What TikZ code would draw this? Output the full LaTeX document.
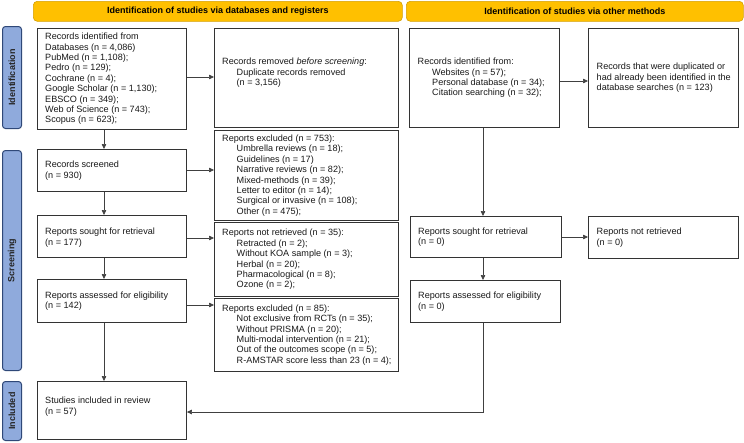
\documentclass[tikz,border=0pt]{standalone}
\usepackage{fontspec}
\setmainfont{Liberation Sans}
\usetikzlibrary{arrows.meta,calc}
\definecolor{hdrfill}{RGB}{255,192,0}
\definecolor{hdrdraw}{RGB}{214,160,0}
\definecolor{sidefill}{RGB}{143,170,220}
\definecolor{sidedraw}{RGB}{47,72,120}
\newcommand{\ind}{\hspace*{14.5pt}}
\begin{document}
\begin{tikzpicture}[x=1pt,y=-1pt,
  box/.style={draw=black!80, line width=0.9pt, fill=white, anchor=north west, inner sep=0pt},
  txt/.style={anchor=west, align=left, inner sep=0pt, font=\fontsize{9.1}{10.4}\selectfont, text=black!90},
  hdr/.style={draw=hdrdraw, fill=hdrfill, line width=0.6pt, rounded corners=4pt, anchor=north west,
    font=\fontsize{9}{10.5}\selectfont\bfseries, inner sep=0pt},
  side/.style={draw=sidedraw, fill=sidefill, line width=1pt, rounded corners=3pt, anchor=north west,
    inner sep=0pt},
  sidetxt/.style={rotate=90, font=\fontsize{9}{10.5}\selectfont\bfseries, text=black!85},
  arr/.style={draw=black!75, line width=0.6pt, -{Triangle[length=5pt,width=4.5pt]}},
]
\useasboundingbox (0,0) rectangle (744,442);
\fill[white] (0,0) rectangle (744,442);

% headers
\node[hdr, minimum width=369pt, minimum height=20pt] (hL) at (33,1) {Identification of studies via databases and registers};
\node[hdr, minimum width=337pt, minimum height=20pt] (hR) at (406,1) {Identification of studies via other methods};

% side labels
\node[side, minimum width=19pt, minimum height=102pt] (s1) at (2,26) {};
\node[sidetxt] (s1t) at (s1.center) {Identification};
\node[side, minimum width=19pt, minimum height=220pt] (s2) at (2,150) {};
\node[sidetxt] (s2t) at (s2.center) {Screening};
\node[side, minimum width=19pt, minimum height=59pt] (s3) at (2,381) {};
\node[sidetxt] (s3t) at (s3.center) {Included};

% boxes
\node[box, minimum width=149pt, minimum height=101pt] (id1) at (37,28) {};
\node[box, minimum width=184pt, minimum height=99pt] (rem) at (214,28) {};
\node[box, minimum width=149pt, minimum height=42pt] (scr) at (37,149) {};
\node[box, minimum width=184pt, minimum height=90pt] (ex1) at (214,130) {};
\node[box, minimum width=149pt, minimum height=42pt] (sou) at (37,215) {};
\node[box, minimum width=184pt, minimum height=74pt] (nr) at (214,222) {};
\node[box, minimum width=149pt, minimum height=43pt] (ass) at (37,279) {};
\node[box, minimum width=184pt, minimum height=73pt] (ex2) at (214,298) {};
\node[box, minimum width=149pt, minimum height=58pt] (stu) at (37,381) {};
\node[box, minimum width=150pt, minimum height=99pt] (oth) at (409,28) {};
\node[box, minimum width=150pt, minimum height=99pt] (dup) at (588,28) {};
\node[box, minimum width=151pt, minimum height=41pt] (sou2) at (410,216) {};
\node[box, minimum width=150pt, minimum height=42pt] (nr2) at (588,216) {};
\node[box, minimum width=150pt, minimum height=42pt] (ass2) at (410,280) {};

% texts
\node[txt] (id1t) at ([xshift=8pt]id1.west) {Records identified from\\
Databases (n = 4,086)\\
PubMed (n = 1,108);\\
Pedro (n = 129);\\
Cochrane (n = 4);\\
Google Scholar (n = 1,130);\\
EBSCO (n = 349);\\
Web of Science (n = 743);\\
Scopus (n = 623);};
\node[txt] (remt) at ([xshift=8pt,yshift=5pt]rem.west) {Records removed \textit{before screening}:\\
\ind Duplicate records removed\\
\ind (n = 3,156)};
\node[txt] (scrt) at ([xshift=8pt]scr.west) {Records screened\\(n = 930)};
\node[txt] (ex1t) at ([xshift=8pt]ex1.west) {Reports excluded (n = 753):\\
\ind Umbrella reviews (n = 18);\\
\ind Guidelines (n = 17)\\
\ind Narrative reviews (n = 82);\\
\ind Mixed-methods (n = 39);\\
\ind Letter to editor (n = 14);\\
\ind Surgical or invasive (n = 108);\\
\ind Other (n = 475);};
\node[txt] (sout) at ([xshift=8pt,yshift=-1pt]sou.west) {Reports sought for retrieval\\(n = 177)};
\node[txt] (nrt) at ([xshift=8pt]nr.west) {Reports not retrieved (n = 35):\\
\ind Retracted (n = 2);\\
\ind Without KOA sample (n = 3);\\
\ind Herbal (n = 20);\\
\ind Pharmacological (n = 8);\\
\ind Ozone (n = 2);};
\node[txt] (asst) at ([xshift=8pt]ass.west) {Reports assessed for eligibility\\(n = 142)};
\node[txt] (ex2t) at ([xshift=8pt]ex2.west) {Reports excluded (n = 85):\\
\ind Not exclusive from RCTs (n = 35);\\
\ind Without PRISMA (n = 20);\\
\ind Multi-modal intervention (n = 21);\\
\ind Out of the outcomes scope (n = 5);\\
\ind R-AMSTAR score less than 23 (n = 4);};
\node[txt] (stut) at ([xshift=8pt,yshift=4pt]stu.west) {Studies included in review\\(n = 57)};
\node[txt] (otht) at ([xshift=8.5pt]oth.west) {Records identified from:\\
\ind Websites (n = 57);\\
\ind Personal database (n = 34);\\
\ind Citation searching (n = 32);};
\node[txt] (dupt) at ([xshift=8.5pt]dup.west) {Records that were duplicated or\\
had already been identified in the\\
database searches (n = 123)};
\node[txt] (sou2t) at ([xshift=8pt]sou2.west) {Reports sought for retrieval\\(n = 0)};
\node[txt] (nr2t) at ([xshift=8.5pt]nr2.west) {Reports not retrieved\\(n = 0)};
\node[txt] (ass2t) at ([xshift=8pt]ass2.west) {Reports assessed for eligibility\\(n = 0)};

% helper coordinates
\coordinate (cL) at (104,0);
\coordinate (cR) at (483,0);
\coordinate (r1) at (0,77);
\coordinate (r2) at (0,170);
\coordinate (r3) at (0,238);
\coordinate (r4) at (0,305);
\coordinate (q1) at (0,81);
\coordinate (q3) at (0,237);
\coordinate (r5) at (0,412);

% vertical arrows left
\draw[arr] (id1.south -| cL) -- (scr.north -| cL);
\draw[arr] (scr.south -| cL) -- (sou.north -| cL);
\draw[arr] (sou.south -| cL) -- (ass.north -| cL);
\draw[arr] (ass.south -| cL) -- (stu.north -| cL);
% horizontal arrows left
\draw[arr] (id1.east |- r1) -- (rem.west |- r1);
\draw[arr] (scr.east |- r2) -- (ex1.west |- r2);
\draw[arr] (sou.east |- r3) -- (nr.west |- r3);
\draw[arr] (ass.east |- r4) -- (ex2.west |- r4);
% right column
\draw[arr] (oth.east |- q1) -- (dup.west |- q1);
\draw[arr] (oth.south -| cR) -- (sou2.north -| cR);
\draw[arr] (sou2.east |- q3) -- (nr2.west |- q3);
\draw[arr] (sou2.south -| cR) -- (ass2.north -| cR);
\draw[arr] (ass2.south -| cR) -- (cR |- r5) -- (stu.east |- r5);
\end{tikzpicture}
\end{document}
